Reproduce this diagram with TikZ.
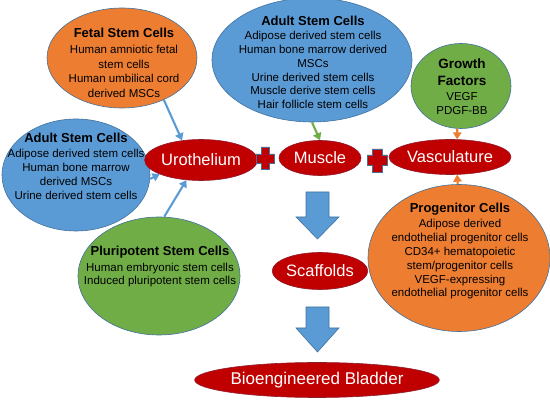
\documentclass[tikz,border=0pt]{standalone}
\usepackage{fontspec}
\setmainfont{Liberation Sans}
\usetikzlibrary{arrows.meta,shapes.geometric}
\definecolor{cblue}{HTML}{5B9BD5}
\definecolor{corange}{HTML}{ED7D31}
\definecolor{cgreen}{HTML}{70AD47}
\definecolor{cred}{HTML}{C00000}
\definecolor{cline}{HTML}{41719C}
\definecolor{credline}{HTML}{8E1B2E}
\begin{document}
\begin{tikzpicture}[x=1pt,y=-1pt,
  blob/.style={ellipse,draw=cline,line width=0.6pt,inner sep=0pt},
  redblob/.style={ellipse,draw=credline,line width=0.6pt,fill=cred,inner sep=0pt,
    text=white,font=\fontsize{16.5}{18}\selectfont},
  ttl/.style={font=\fontsize{13}{15}\selectfont\bfseries,inner sep=0pt,align=center},
  bdy/.style={font=\fontsize{11.5}{13.8}\selectfont,inner sep=0pt,align=center},
  conn/.style={line width=2.1pt,-{Triangle[length=7pt,width=8.5pt]}},
  shapefill/.style={fill=#1,draw=cline,line width=0.6pt,line join=miter}
]
\useasboundingbox (0,0) rectangle (550,403);

% source ellipses
\node[blob,fill=corange,minimum width=150pt,minimum height=100pt] (fetal) at (122,58) {};
\node[ttl] (fetalT) at (124,33) {Fetal Stem Cells};
\node[bdy,font=\fontsize{11.5}{14.5}\selectfont] (fetalB) at (124,71.5) {Human amniotic fetal\\stem cells\\Human umbilical cord\\derived MSCs};

\node[blob,fill=cblue,minimum width=148pt,minimum height=112pt] (adultL) at (76,175) {};
\node[ttl] (adultLT) at (76,138) {Adult Stem Cells};
\node[bdy] (adultLB) at (76,174.5) {Adipose derived stem cells\\Human bone marrow\\derived MSCs\\Urine derived stem cells};

\node[blob,fill=cblue,minimum width=200pt,minimum height=124pt] (adultT) at (312,60) {};
\node[ttl] (adultTT) at (313,21) {Adult Stem Cells};
\node[bdy] (adultTB) at (313,70) {Adipose derived stem cells\\Human bone marrow derived\\MSCs\\Urine derived stem cells\\Muscle derive stem cells\\Hair follicle stem cells};

\node[blob,fill=cgreen,minimum width=100pt,minimum height=85pt] (growth) at (461,86) {};
\node[ttl,font=\fontsize{13.5}{17.5}\selectfont\bfseries] (growthT) at (462,72) {Growth\\Factors};
\node[bdy,font=\fontsize{11.5}{14}\selectfont] (growthB) at (462,104) {VEGF\\PDGF-BB};

\node[blob,fill=corange,minimum width=182pt,minimum height=147pt] (prog) at (459,258) {};
\node[ttl] (progT) at (460,209) {Progenitor Cells};
\node[bdy] (progB) at (460,259.5) {Adipose derived\\endothelial progenitor cells\\CD34+ hematopoietic\\stem/progenitor cells\\VEGF-expressing\\endothelial progenitor cells};

\node[blob,fill=cgreen,minimum width=162pt,minimum height=118pt] (pluri) at (159,276) {};
\node[ttl] (pluriT) at (160,252) {Pluripotent Stem Cells};
\node[bdy] (pluriB) at (160,275) {Human embryonic stem cells\\Induced pluripotent stem cells};

% red targets
\node[redblob,minimum width=101pt,minimum height=41pt] (uro) at (201,160) {Urothelium};
\node[redblob,minimum width=82pt,minimum height=35pt] (muscle) at (320,158) {Muscle};
\node[redblob,minimum width=122pt,minimum height=35pt] (vasc) at (450,157) {Vasculature};
\node[redblob,minimum width=86pt,minimum height=37pt] (scaf) at (320,271) {Scaffolds};
\node[redblob,minimum width=210pt,minimum height=35pt,font=\fontsize{17}{19}\selectfont] (bladder) at (317,380) {Bioengineered Bladder};

% crosses
\draw[shapefill=cred] (261,147)--(269,147)--(269,154)--(274,154)--(274,163)--(269,163)--(269,169)--(261,169)--(261,163)--(256,163)--(256,154)--(261,154)--cycle;
\draw[shapefill=cred] (372,149)--(382,149)--(382,155)--(387,155)--(387,165)--(382,165)--(382,172)--(372,172)--(372,165)--(367,165)--(367,155)--(372,155)--cycle;

% block arrows
\draw[shapefill=cblue] (306,192)--(329,192)--(329,217)--(339,217)--(317.5,239)--(296,217)--(306,217)--cycle;
\draw[shapefill=cblue] (306,307)--(329,307)--(329,328)--(339,328)--(317.5,352)--(296,328)--(306,328)--cycle;

% connectors
\draw[conn,cblue] (fetal.-45) -- (uro.134);
\draw[conn,cblue] (adultL.-3) -- (uro.199);
\draw[conn,cblue] (pluri.85) -- (uro.234);
\draw[conn,cgreen] (adultT.270) -- (muscle.90);
\draw[conn,corange] (growth.265) -- (vasc.68);
\draw[conn,corange] (prog.91) -- (vasc.-68);
\end{tikzpicture}
\end{document}
